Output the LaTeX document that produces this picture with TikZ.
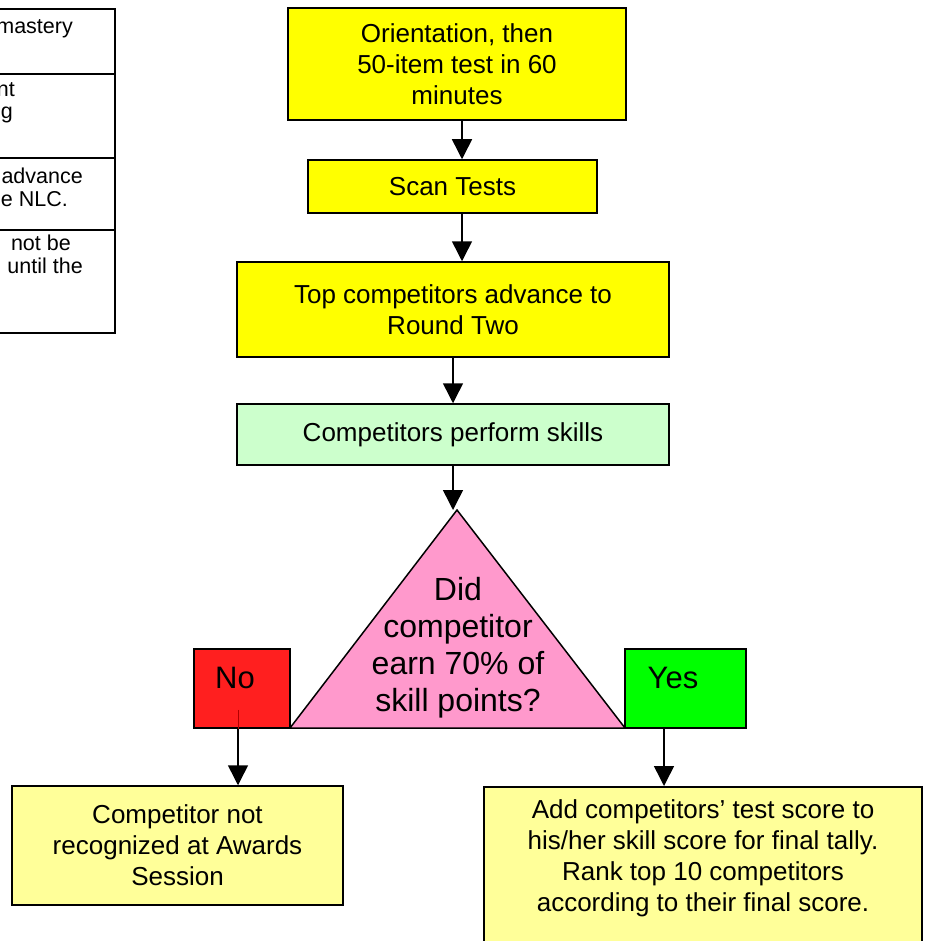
\documentclass[tikz,border=0pt]{standalone}
\usepackage{fontspec}
\setmainfont{Liberation Sans}
\usetikzlibrary{arrows.meta,positioning}
\definecolor{stepyellow}{HTML}{FFFF00}
\definecolor{skillgreen}{HTML}{CCFFCC}
\definecolor{askpink}{HTML}{FF99CC}
\definecolor{nored}{HTML}{FF1F1F}
\definecolor{yesgreen}{HTML}{00FF00}
\definecolor{outyellow}{HTML}{FFFF99}
\tikzset{basic/.style={draw,line width=1.5pt,rectangle,align=center,
                       font=\fontsize{26}{31}\selectfont}}
\tikzset{stepbox/.style={basic,fill=stepyellow}}
\tikzset{skillbox/.style={basic,fill=skillgreen}}
\tikzset{decision/.style={draw,line width=1.5pt,fill=askpink}}
\tikzset{choice/.style={basic,minimum height=79pt}}
\tikzset{outcome/.style={basic,fill=outyellow}}
\tikzset{cell/.style={draw,line width=1.5pt}}
\tikzset{flow/.style={line width=1.5pt,-{Triangle[length=20pt,width=20pt]}}}

\begin{document}
\begin{tikzpicture}[x=1pt,y=-1pt]
    \useasboundingbox (0,0) rectangle (934,941);
    \fill[white] (0,0) rectangle (934,941);
    % table at the left edge
    \foreach \t/\b in {9/74,74/158,158/230,230/333}{%
          \draw[cell] (-250,\t) rectangle (115,\b);
        }
    \foreach \txt/\xe/\yb in {mastery/73/34,nt/15/97,g/13/119,advance/83/184,
                              e NLC./68/207,not be/71/250,until the/83/273}{%
          \node[anchor=base east,inner sep=0pt,font=\fontsize{21.5}{25}\selectfont]
               at (\xe,\yb) {\txt};
        }
    % main flow
    \node[stepbox,minimum width=338pt,minimum height=112pt] (orient) at (457,64)
         {Orientation, then\\50-item test in 60\\minutes};
    \node[stepbox,minimum width=289pt,minimum height=53pt] (scan) at (452.5,186.5)
         {Scan Tests};
    \node[stepbox,minimum width=432pt,minimum height=95pt] (top) at (453,309.5)
         {Top competitors advance to\\Round Two};
    \node[skillbox,minimum width=432pt,minimum height=61pt] (perform) at (453,434.5)
         {Competitors perform skills};
    \coordinate (apex) at (457,510);
    \coordinate (baseL) at (290,728);
    \coordinate (baseR) at (625,728);
    \draw[decision] (apex) -- (baseR) -- (baseL) -- cycle;
    \node[align=center,font=\fontsize{32}{37}\selectfont] (ask) at (458,648)
         {Did\\competitor\\earn 70\% of\\skill points?};
    \node[choice,fill=nored,minimum width=96pt] (no) at (242,688.5) {};
    \node[font=\fontsize{31}{37}\selectfont] (nolbl) at (235,678) {No};
    \node[choice,fill=yesgreen,minimum width=121pt] (yes) at (685.5,688.5) {};
    \node[font=\fontsize{31}{37}\selectfont] (yeslbl) at (673,678) {Yes};
    \node[outcome,minimum width=331pt,minimum height=119pt] (fail) at (177.5,845.5)
         {Competitor not\\recognized at Awards\\Session};
    \node[outcome,minimum width=438pt,minimum height=190pt,anchor=north] (passbox)
         at (703,786) {};
    \node[align=center,font=\fontsize{26}{31}\selectfont] (pass) at (703,858.5)
         {Add competitors’ test score to\\his/her skill score for final tally.\\
          Rank top 10 competitors\\according to their final score.};
    % connectors
    \draw[flow] ([xshift=5pt]orient.south) -- ([xshift=5pt]orient.south |- scan.north);
    \draw[flow] ([xshift=9.5pt]scan.south) -- ([xshift=9.5pt]scan.south |- top.north);
    \draw[flow] (top.south) -- (perform.north);
    \draw[flow] (perform.south) -- (perform.south |- apex);
    \draw[line width=1pt,red!70!black] ([xshift=-4pt,yshift=19pt]no.south) -- ([xshift=-4pt]no.south);
    \draw[flow] ([xshift=-4pt]no.south) -- ([xshift=-4pt]no.south |- fail.north);
    \draw[flow] ([xshift=-21.5pt]yes.south) -- ([xshift=-21.5pt]yes.south |- passbox.north);
\end{tikzpicture}
\end{document}
